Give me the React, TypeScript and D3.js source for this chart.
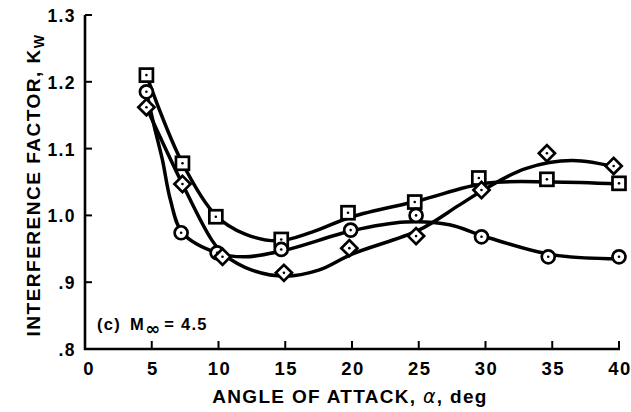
import React from "react";
import * as d3 from "d3";

// Measured points (angle of attack, deg ; interference factor)
const squareAlpha = [4.6, 7.3, 9.8, 14.7, 19.7, 24.7, 29.5, 34.6, 40];
const squareK = [1.21, 1.078, 0.998, 0.964, 1.004, 1.02, 1.056, 1.054, 1.048];
const circleAlpha = [4.6, 7.2, 9.9, 14.7, 19.9, 24.8, 29.7, 34.7, 40];
const circleK = [1.185, 0.974, 0.944, 0.949, 0.978, 1.0, 0.968, 0.938, 0.938];
const diamondAlpha = [4.6, 7.3, 10.3, 14.9, 19.8, 24.8, 29.7, 34.6, 39.6];
const diamondK = [1.162, 1.047, 0.938, 0.914, 0.951, 0.969, 1.038, 1.093, 1.074];

// Faired curves
const squareCurveAlpha = [4.6, 7.3, 9.8, 12, 14.5, 17, 20, 25, 30, 35, 40];
const squareCurveK = [1.21, 1.078, 1.0, 0.972, 0.962, 0.975, 0.998, 1.022, 1.048, 1.05, 1.047];
const circleCurveAlpha = [4.6, 5.2, 5.8, 6.4, 7.3, 9.9, 12, 15, 20, 24, 27.3, 30, 35, 40];
const circleCurveK = [1.185, 1.132, 1.083, 1.023, 0.974, 0.944, 0.938, 0.948, 0.977, 0.99, 0.986, 0.968, 0.941, 0.935];
const diamondCurveAlpha = [4.6, 7.3, 9.5, 10.5, 12.5, 15, 17.5, 20, 25, 28, 30, 33, 36.5, 40];
const diamondCurveK = [1.162, 1.047, 0.963, 0.94, 0.918, 0.909, 0.918, 0.942, 0.978, 1.015, 1.04, 1.07, 1.082, 1.071];

const xTicks = [0, 5, 10, 15, 20, 25, 30, 35, 40];
const yTicks = [0.8, 0.9, 1.0, 1.1, 1.2, 1.3];
const yTickLabels = [".8", ".9", "1.0", "1.1", "1.2", "1.3"];

const W = 631;
const H = 412;
const FONT = "'Liberation Sans', Arial, Helvetica, sans-serif";

export default function App() {
  const x = d3.scaleLinear().domain([0, 40]).range([85, 619]);
  const y = d3.scaleLinear().domain([0.8, 1.3]).range([349, 15]);

  const line = d3
    .line<[number, number]>()
    .x((d) => x(d[0]))
    .y((d) => y(d[1]))
    .curve(d3.curveCatmullRom.alpha(0.5));

  const zip = (a: number[], b: number[]) => a.map((v, i) => [v, b[i]] as [number, number]);

  const curves = [
    zip(squareCurveAlpha, squareCurveK),
    zip(circleCurveAlpha, circleCurveK),
    zip(diamondCurveAlpha, diamondCurveK),
  ];

  const sw = 3.5;

  return (
    <svg
      width={W}
      height={H}
      style={{ position: "absolute", left: 0, top: 0, background: "#fff" }}
      fontFamily={FONT}
    >
      <rect width={W} height={H} fill="#fff" />
      {/* curves */}
      {curves.map((c, i) => (
        <path key={i} d={line(c) || ""} fill="none" stroke="#000" strokeWidth={sw} />
      ))}
      {/* axes */}
      <line x1={x(0)} x2={x(0)} y1={y(1.3)} y2={y(0.8) + 1} stroke="#000" strokeWidth={2.6} />
      <line x1={x(0) - 1} x2={x(40) + 1} y1={y(0.8)} y2={y(0.8)} stroke="#000" strokeWidth={2.6} />
      {yTicks.map((t, i) => (
        <g key={"y" + i}>
          {t > 0.8 && (
            <line x1={x(0)} x2={x(0) + 7} y1={y(t)} y2={y(t)} stroke="#000" strokeWidth={2} />
          )}
          <text
            x={76}
            y={y(t) + 7}
            textAnchor="end"
            fontSize={17.5}
            fontWeight="bold"
            letterSpacing={1.4}
          >
            {yTickLabels[i]}
          </text>
        </g>
      ))}
      {xTicks.map((t, i) => (
        <g key={"x" + i}>
          {t > 0 && (
            <line x1={x(t)} x2={x(t)} y1={y(0.8)} y2={y(0.8) - 8} stroke="#000" strokeWidth={2} />
          )}
          <text
            x={x(t) + (t === 0 ? 4 : 1)}
            y={375}
            textAnchor="middle"
            fontSize={18.5}
            fontWeight="bold"
            letterSpacing={1.4}
          >
            {t}
          </text>
        </g>
      ))}
      {/* axis titles */}
      <text x={350} y={403} textAnchor="middle" fontSize={19} fontWeight="bold" letterSpacing={1.3}>
        ANGLE OF ATTACK,{" "}
        <tspan fontStyle="italic" fontWeight="normal" fontFamily="'DejaVu Sans', sans-serif">α</tspan>, deg
      </text>
      <text
        transform={`translate(40,${185}) rotate(-90)`}
        textAnchor="middle"
        fontSize={19}
        fontWeight="bold"
        letterSpacing={1.5}
      >
        INTERFERENCE FACTOR, K
        <tspan fontSize={14} dy={4}>W</tspan>
      </text>
      {/* annotation */}
      <text x={97} y={330} fontSize={16.5} fontWeight="bold" letterSpacing={1.3}>
        (c)
        <tspan dx={9}>M</tspan>
        <tspan fontSize={18} dy={5} fontWeight="bold" fontFamily="'DejaVu Sans', sans-serif" letterSpacing={0}>∞</tspan>
        <tspan dy={-5} dx={4}>= 4.5</tspan>
      </text>
      {/* markers: squares */}
      {squareAlpha.map((a, i) => (
        <g key={"s" + i} transform={`translate(${x(a)},${y(squareK[i])})`}>
          <rect x={-6.5} y={-6.5} width={13} height={13} fill="#fff" stroke="#000" strokeWidth={2.7} />
          <circle r={1.3} fill="#000" />
        </g>
      ))}
      {circleAlpha.map((a, i) => (
        <g key={"c" + i} transform={`translate(${x(a)},${y(circleK[i])})`}>
          <circle r={6.5} fill="#fff" stroke="#000" strokeWidth={2.7} />
          <circle r={1.3} fill="#000" />
        </g>
      ))}
      {diamondAlpha.map((a, i) => (
        <g key={"d" + i} transform={`translate(${x(a)},${y(diamondK[i])})`}>
          <rect
            x={-5.7}
            y={-5.7}
            width={11.4}
            height={11.4}
            fill="#fff"
            stroke="#000"
            strokeWidth={2.7}
            transform="rotate(45)"
          />
          <circle r={1.3} fill="#000" />
        </g>
      ))}
    </svg>
  );
}
